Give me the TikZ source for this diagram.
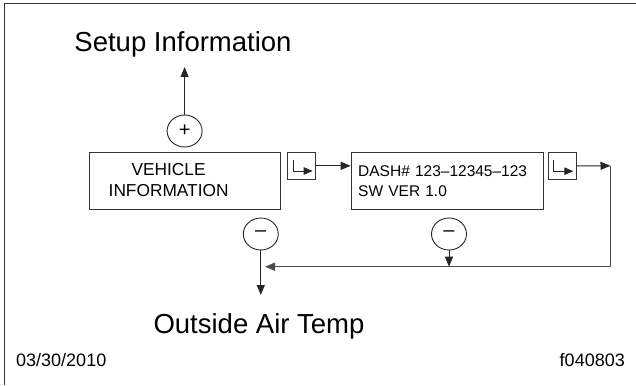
\documentclass[tikz,border=0pt]{standalone}
\usepackage{fontspec}
\setmainfont{Liberation Sans}
\usetikzlibrary{arrows.meta,shapes.geometric}

\begin{document}
\begin{tikzpicture}[
    x=1pt,y=-1pt,
    heading/.style={anchor=base,inner sep=0pt,font=\fontsize{27.5}{33}\selectfont},
    stamp/.style={anchor=base west,inner sep=0pt,font=\fontsize{18}{22}\selectfont},
    panel/.style={draw=black!80,line width=1pt,minimum width=191pt,minimum height=57pt},
    retbox/.style={draw=black!80,line width=0.9pt,minimum width=28.5pt,minimum height=27.5pt},
    sign/.style={draw=black!85,line width=0.9pt,ellipse,minimum width=35pt,
      minimum height=32pt,inner sep=0pt,font=\fontsize{20}{24}\selectfont},
    arrow/.style={-{Triangle[length=10pt,width=8pt]},draw=black!85,line width=1pt},
    tip/.style={-{Triangle[length=9pt,width=7.5pt]},draw=black!85,line width=0.9pt},
    loopline/.style={arrow,draw=black!70,line width=1.3pt}
  ]
    \useasboundingbox (0,0) rectangle (636,385);
    \draw[black!80,line width=1pt] (4,385) |- (636,4);

    \node[heading] (setup) at (183,52) {Setup Information};
    \node[sign] (plus) at (184.6,131) {+};
    \node[panel] (vehicle) at (184.6,181) {};
    \node[align=center,inner sep=0pt,font=\fontsize{17.3}{21.7}\selectfont]
      (vehtext) at ([xshift=-16pt,yshift=1pt]vehicle.center) {VEHICLE\\INFORMATION};
    \node[retbox] (ret1) at (301.6,165.8) {};
    \node[panel,minimum width=192pt,text width=178pt,inner xsep=7pt,align=left,
      font=\fontsize{15.5}{20}\selectfont] (dash) at (447.2,181)
      {DASH\# 123--12345--123\\SW VER 1.0};
    \node[retbox] (ret2) at (562.2,166) {};
    \node[sign] (minus1) at (260.8,234) {--};
    \node[sign] (minus2) at (449,234) {--};
    \node[heading] (oat) at (259,333) {Outside Air Temp};
    \node[stamp] (date) at (16,366) {03/30/2010};
    \node[stamp,anchor=base east] (fig) at (625,366) {f040803};

    \coordinate (uptip) at (184.6,67);
    \coordinate (corner) at (610.5,165.8);
    \coordinate (merge) at (265,266.7);
    \coordinate (oatip) at (260.8,295);

    % return symbols
    \draw[tip] ([shift={(-8.3,-5.8)}]ret1.center) |- ([shift={(11.1,5.2)}]ret1.center);
    \draw[tip] ([shift={(-8.3,-5.8)}]ret2.center) |- ([shift={(11.1,5.2)}]ret2.center);

    \draw[arrow] (plus) -- (uptip);
    \draw[arrow] (ret1.east) -- (ret1.east -| dash.west);
    \draw[arrow] (ret2.east) -- (corner);
    \draw[loopline] (corner) |- (merge);
    \draw[arrow] (minus2) -- (minus2 |- merge);
    \draw[arrow] (minus1) -- (oatip);
\end{tikzpicture}
\end{document}
